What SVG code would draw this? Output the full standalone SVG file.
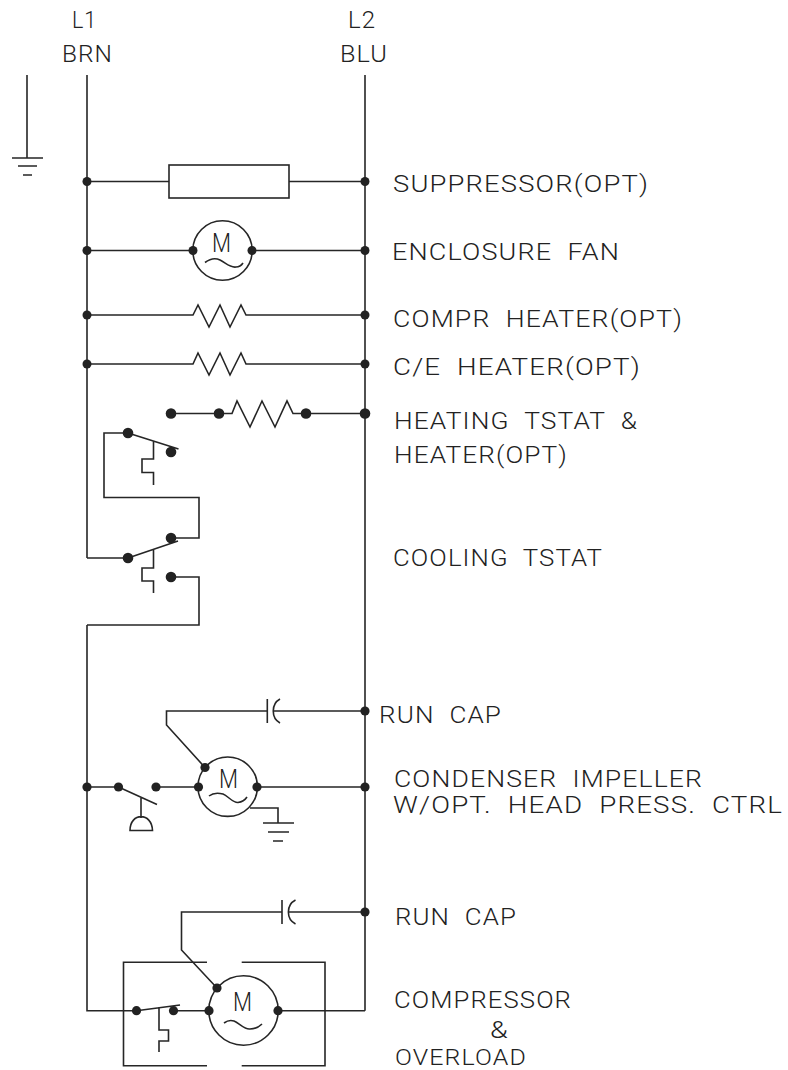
<svg xmlns="http://www.w3.org/2000/svg" width="788" height="1070" viewBox="0 0 788 1070">
<style>
.w{fill:none;stroke:#262626;stroke-width:1.6;stroke-linejoin:miter}
.d{fill:#222}
text{font-family:Roboto,"Liberation Sans",sans-serif;font-weight:300;font-size:23.500px;fill:#222;white-space:pre;letter-spacing:1px}
.m{font-size:26px;letter-spacing:0}
</style>
<rect width="788" height="1070" fill="#fff"/>
<g id="connectors">
<path class="w" d="M87 75V558M365 75V1010.700M87 625V1010.700H136M27 75V158"/>
<path class="w" d="M87 181.500H169M289 181.500H365M87 250.500H193M252 250.500H365"/>
<path class="w" d="M87 315H193L198 305 209 327 220 305 230 327 241 305 246 315H365"/>
<path class="w" d="M87 364H193L198 353 209 375 220 353 230 375 241 353 246 364H365"/>
<path class="w" d="M171 413.500H232L237 401 250 427 262 401 275 427 287 401 293 413.500H365"/>
<path class="w" d="M128 433H104V497.500H199V538H171M87 558H128M171 577H199V625H87"/>
<path class="w" d="M87 787H118.500M156 787H198.500M257 787H365"/>
<path class="w" d="M267 711H166.500V725L205 767.500M273 711H365"/>
<path class="w" d="M282 912H181.500V950L217 988M288 912H365"/>
<path class="w" d="M173.500 1010.700H209M278 1010.700H365"/>
</g>
<g id="ground-main"><path class="w" d="M12 158H43M18 166H37M23 175H32"/></g>
<g id="suppressor"><rect class="w" x="169" y="165" width="120" height="33"/></g>
<g id="enclosure-fan"><circle class="w" cx="222.500" cy="250.500" r="29.700"/><text class="m" x="212" y="252" textLength="19" lengthAdjust="spacingAndGlyphs">M</text><path class="w" d="M205 262.500C211 258 216 258 220 260 226 263 230 268 236 267 239 267 241 266 243 263"/></g>
<g id="heating-tstat"><path class="w" d="M128 433L178.500 449M153.500 441V459H142V472.500H153.500V485"/></g>
<g id="cooling-tstat"><path class="w" d="M128 558L178 541M153.500 550V568H142V581H153.500V593"/></g>
<g id="condenser-motor"><circle class="w" cx="227.700" cy="786.700" r="29.700"/><text class="m" x="219" y="788" textLength="19" lengthAdjust="spacingAndGlyphs">M</text><path class="w" d="M209 796C214 792 219 793 223 794 228 796 233 803 238 802.500 242 802 245 800 247 797"/></g>
<g id="head-press"><path class="w" d="M118.500 787L157 804.500M141 797V818M130 830.500H152.500C152 812 130 812 130 830.500Z"/></g>
<g id="ground-2"><path class="w" d="M250 808H278V823M263 823H294M268 832H289M273 841H283"/></g>
<g id="run-cap-1"><path class="w" d="M267.300 699V723M280 699C271 704 271 718 280 723"/></g>
<g id="run-cap-2"><path class="w" d="M282 900V924M295.500 900C286 905 286 919 295.500 924"/></g>
<g id="compressor"><circle class="w" cx="243.500" cy="1010.500" r="34.700"/><text class="m" x="233" y="1010.700" textLength="19" lengthAdjust="spacingAndGlyphs">M</text><path class="w" d="M224 1023C228 1020 231 1020 234 1021 239 1023 245 1030 250 1029 255 1029 259 1027 262 1024"/></g>
<g id="overload"><path class="w" d="M136.500 1010.700L180 1005M159 1007V1030H168.500V1041H159V1052"/></g>
<g id="enclosure"><path class="w" d="M207 962.300H123.500V1065.700H207M241.700 962.300H325V1065.700H241.700"/></g>
<g id="dots" class="d">
<circle cx="87" cy="181.500" r="4.500"/><circle cx="365" cy="181.500" r="4.500"/>
<circle cx="87" cy="250.500" r="4.500"/><circle cx="193" cy="250.500" r="4.500"/><circle cx="252" cy="250.500" r="4.500"/><circle cx="365" cy="250.500" r="4.500"/>
<circle cx="87" cy="315" r="4.500"/><circle cx="365" cy="315" r="4.500"/>
<circle cx="87" cy="364" r="4.500"/><circle cx="365" cy="364" r="4.500"/>
<circle cx="171" cy="413.500" r="5.300"/><circle cx="219" cy="413.500" r="5.300"/><circle cx="306" cy="413.500" r="5.300"/><circle cx="365" cy="413.500" r="5.300"/>
<circle cx="128" cy="433" r="5.300"/><circle cx="171" cy="452" r="5.300"/><circle cx="171" cy="538" r="5.300"/><circle cx="128" cy="558" r="5.300"/><circle cx="171" cy="577" r="5.300"/>
<circle cx="365" cy="711" r="4.600"/><circle cx="205" cy="767.500" r="4.600"/>
<circle cx="87" cy="787" r="4.600"/><circle cx="118.500" cy="787" r="4.600"/><circle cx="156" cy="787" r="4.600"/><circle cx="198.500" cy="787" r="4.600"/><circle cx="257" cy="787" r="4.600"/><circle cx="365" cy="787" r="4.600"/>
<circle cx="365" cy="912" r="4.600"/><circle cx="217" cy="988" r="4.600"/>
<circle cx="136.500" cy="1010.700" r="4.600"/><circle cx="173.500" cy="1010.700" r="4.600"/><circle cx="209" cy="1010.700" r="4.600"/><circle cx="278" cy="1010.700" r="4.600"/>
</g>
<g id="labels">
<text x="72" y="28" textLength="25" lengthAdjust="spacingAndGlyphs">L1</text><text x="62" y="62" textLength="51" lengthAdjust="spacingAndGlyphs">BRN</text>
<text x="348" y="28" textLength="28" lengthAdjust="spacingAndGlyphs">L2</text><text x="340" y="62" textLength="48" lengthAdjust="spacingAndGlyphs">BLU</text>
<text x="393" y="192" textLength="256" lengthAdjust="spacingAndGlyphs">SUPPRESSOR(OPT)</text>
<text x="392" y="260" textLength="228" lengthAdjust="spacingAndGlyphs">ENCLOSURE  FAN</text>
<text x="393" y="326.500" textLength="290" lengthAdjust="spacingAndGlyphs">COMPR  HEATER(OPT)</text>
<text x="393" y="375" textLength="248" lengthAdjust="spacingAndGlyphs">C/E  HEATER(OPT)</text>
<text x="394" y="429" textLength="244" lengthAdjust="spacingAndGlyphs">HEATING  TSTAT  &amp;</text>
<text x="394" y="463" textLength="174" lengthAdjust="spacingAndGlyphs">HEATER(OPT)</text>
<text x="393" y="566" textLength="210" lengthAdjust="spacingAndGlyphs">COOLING  TSTAT</text>
<text x="379" y="723" textLength="123" lengthAdjust="spacingAndGlyphs">RUN  CAP</text>
<text x="394" y="786.500" textLength="309" lengthAdjust="spacingAndGlyphs">CONDENSER  IMPELLER</text>
<text x="393" y="812.500" textLength="390" lengthAdjust="spacingAndGlyphs">W/OPT.  HEAD  PRESS.  CTRL</text>
<text x="395" y="925" textLength="122" lengthAdjust="spacingAndGlyphs">RUN  CAP</text>
<text x="394" y="1008" textLength="178" lengthAdjust="spacingAndGlyphs">COMPRESSOR</text>
<text x="490" y="1038" textLength="19" lengthAdjust="spacingAndGlyphs">&amp;</text>
<text x="395" y="1065.300" textLength="132" lengthAdjust="spacingAndGlyphs" style="font-size:22px">OVERLOAD</text>
</g>
</svg>
